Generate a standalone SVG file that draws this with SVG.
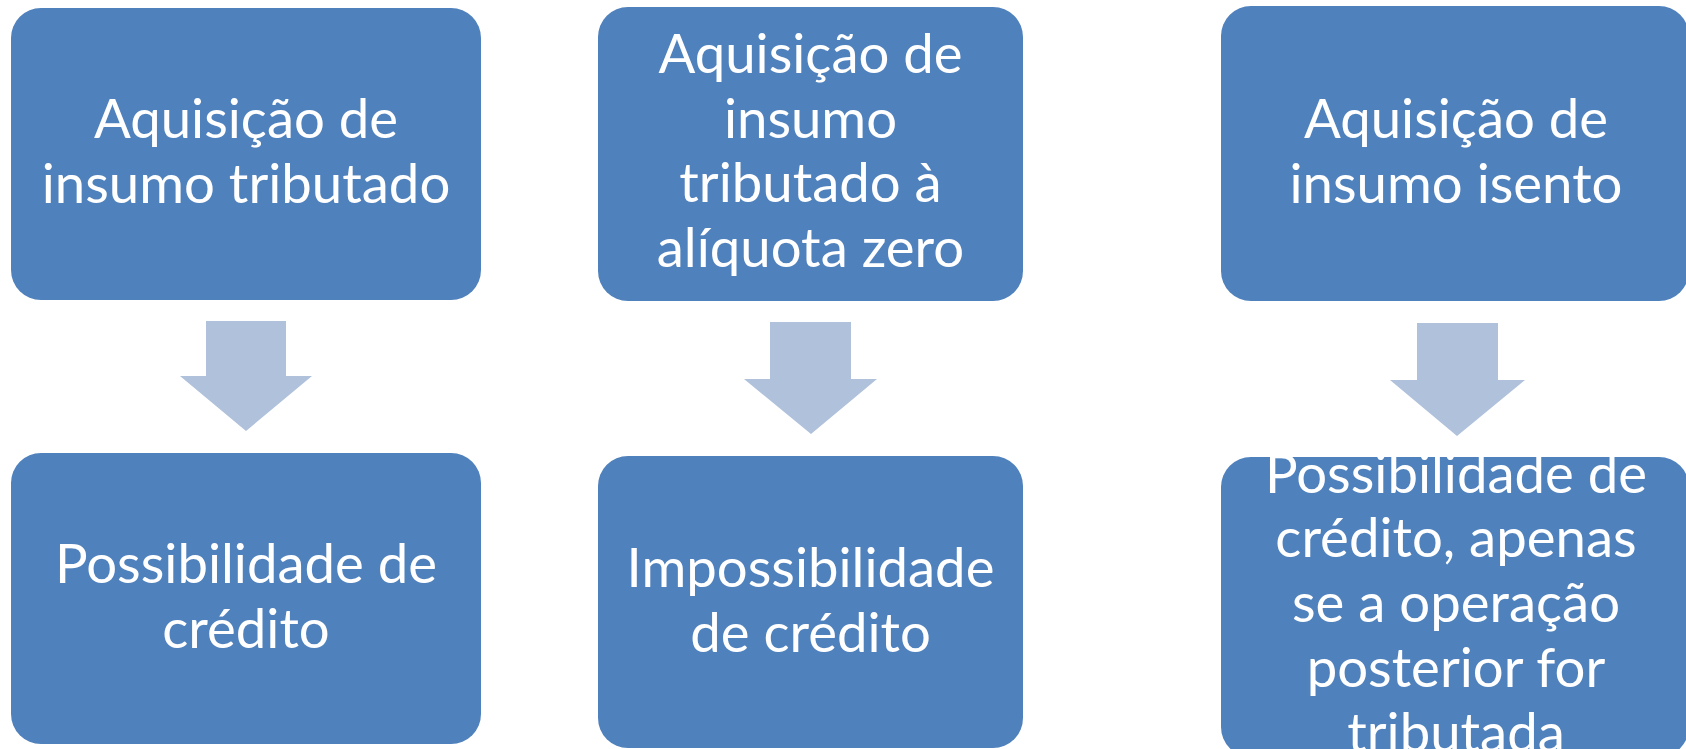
<svg xmlns="http://www.w3.org/2000/svg" width="1686" height="749" viewBox="0 0 1686 749">
<style>
.box{fill:#4F81BD;}
.arr{fill:#B0C1DC;}
.t{font-family:Lato,"Open Sans","Liberation Sans",sans-serif;font-size:54.5px;fill:#FFFFFF;text-anchor:middle;}
</style>
<rect width="1686" height="749" fill="#FFFFFF"/>
<g id="connectors">
<polygon class="arr" points="206,321 286,321 286,376 312,376 246,431 180,376 206,376"/>
<polygon class="arr" points="770,322 851,322 851,379 877,379 811,434 744,379 770,379"/>
<polygon class="arr" points="1417,323 1498,323 1498,380 1525,380 1457,436 1390,380 1417,380"/>
</g>
<g id="node-a1">
<rect class="box" x="11" y="8" width="470" height="292" rx="30"/>
<text class="t" x="246" y="138">Aquisição de</text>
<text class="t" x="246" y="203">insumo tributado</text>
</g>
<g id="node-b1">
<rect class="box" x="598" y="7" width="425" height="294" rx="30"/>
<text class="t" x="810.5" y="73">Aquisição de</text>
<text class="t" x="810.5" y="138">insumo</text>
<text class="t" x="810.5" y="202">tributado à</text>
<text class="t" x="810.5" y="267">alíquota zero</text>
</g>
<g id="node-c1">
<rect class="box" x="1221" y="6" width="468" height="295" rx="30"/>
<text class="t" x="1456" y="138">Aquisição de</text>
<text class="t" x="1456" y="203">insumo isento</text>
</g>
<g id="node-a2">
<rect class="box" x="11" y="453" width="470" height="291" rx="30"/>
<text class="t" x="246" y="583">Possibilidade de</text>
<text class="t" x="246" y="648">crédito</text>
</g>
<g id="node-b2">
<rect class="box" x="598" y="456" width="425" height="292" rx="30"/>
<text class="t" x="810.5" y="587">Impossibilidade</text>
<text class="t" x="810.5" y="652">de crédito</text>
</g>
<g id="node-c2">
<rect class="box" x="1221" y="457" width="468" height="300" rx="30"/>
<text class="t" x="1456" y="493">Possibilidade de</text>
<text class="t" x="1456" y="557">crédito, apenas</text>
<text class="t" x="1456" y="622">se a operação</text>
<text class="t" x="1456" y="687">posterior for</text>
<text class="t" x="1456" y="752">tributada</text>
</g>
</svg>
